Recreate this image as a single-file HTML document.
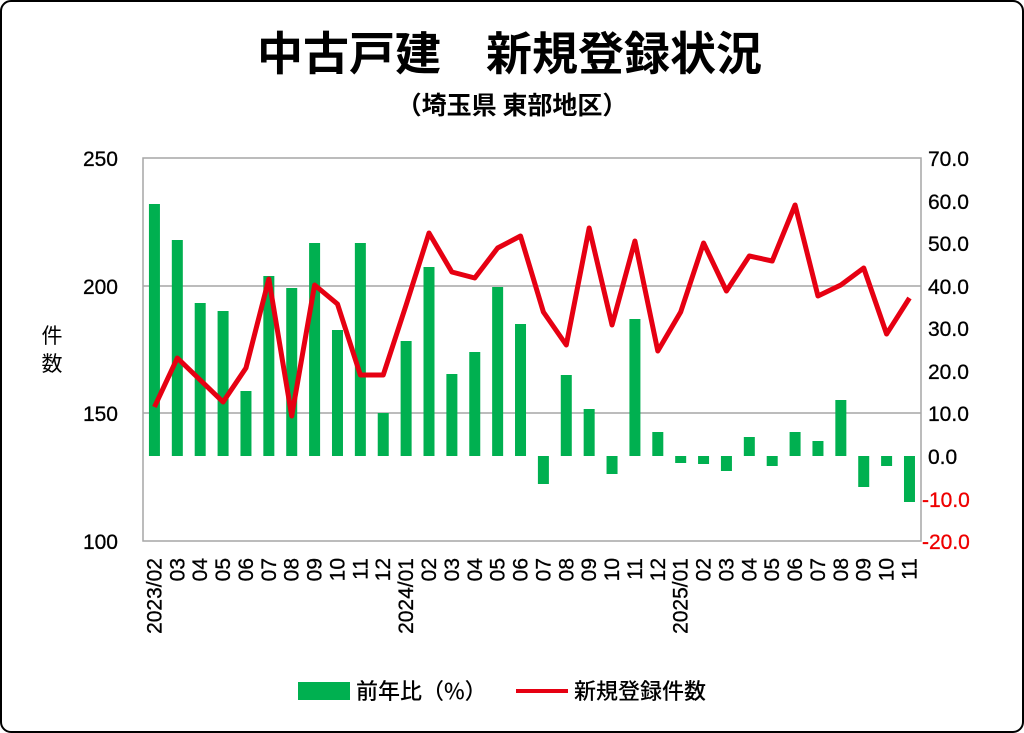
<!DOCTYPE html>
<html><head><meta charset="utf-8"><style>
body{margin:0;background:#fff;}
svg{display:block;font-family:"Liberation Sans","Noto Sans CJK JP",sans-serif;}
</style></head><body>
<svg width="1024" height="733" viewBox="0 0 1024 733">
<rect x="1" y="1" width="1022" height="731" rx="10" fill="#fff" stroke="#000" stroke-width="2"/>
<text x="349" y="70" text-anchor="middle" font-size="46" font-weight="bold" font-family="Noto Sans CJK JP,sans-serif">中古戸建</text>
<text x="624" y="70" text-anchor="middle" font-size="46" font-weight="bold" font-family="Noto Sans CJK JP,sans-serif">新規登録状況</text>
<text x="512" y="114" text-anchor="middle" font-size="25" font-weight="bold" font-family="Noto Sans CJK JP,sans-serif">（埼玉県 東部地区）</text>
<g stroke="#a6a6a6" stroke-width="1.5" fill="none">
<rect x="143" y="158" width="778" height="383"/>
<line x1="143" y1="286" x2="921" y2="286"/>
<line x1="143" y1="413" x2="921" y2="413"/>
</g>
<g font-size="21" text-anchor="end" fill="#000" stroke="#000" stroke-width="0.3">
<text x="118" y="166">250</text><text x="118" y="294">200</text><text x="118" y="421">150</text><text x="118" y="549">100</text>
</g>
<g font-size="21" fill="#000" stroke-width="0.3">
<text x="928" y="166" stroke="#000">70.0</text><text x="928" y="209" stroke="#000">60.0</text><text x="928" y="251" stroke="#000">50.0</text><text x="928" y="294" stroke="#000">40.0</text><text x="928" y="336" stroke="#000">30.0</text><text x="928" y="379" stroke="#000">20.0</text><text x="928" y="421" stroke="#000">10.0</text><text x="928" y="464" stroke="#000">0.0</text>
<text x="922" y="507" fill="#e00" stroke="#e00">-10.0</text><text x="922" y="549" fill="#e00" stroke="#e00">-20.0</text>
</g>
<text x="52" y="343" text-anchor="middle" font-size="21" font-family="Noto Sans CJK JP,sans-serif">件</text>
<text x="52" y="371" text-anchor="middle" font-size="21" font-family="Noto Sans CJK JP,sans-serif">数</text>
<g id="bars" fill="#00b050"></g>
<polyline id="line" fill="none" stroke="#e60012" stroke-width="5" stroke-linejoin="round"/>
<g id="xl" font-size="21" stroke="#000" stroke-width="0.3"></g>
<rect x="298" y="682" width="52" height="18" fill="#00b050"/>
<text x="356" y="699" font-size="22" font-family="Noto Sans CJK JP,sans-serif" font-weight="500">前年比（%）</text>
<line x1="516" y1="691" x2="568" y2="691" stroke="#e60012" stroke-width="4"/>
<text x="574" y="699" font-size="22" font-family="Noto Sans CJK JP,sans-serif" font-weight="500">新規登録件数</text>
</svg>
<script>
var tops=[204,240,303,311,391,276,288,243,330,243,413,341,267,374,352,287,324,484,375,409,474,319,432,463,464,471,437,466,432,441,400,487,466,502];
var ly=[407,358,380,402,368,279,416,285,304,375,375,305,233,272,278,248,236,312,345,228,325,241,351,312,243,291,256,261,205,296,285,268,334,298];
var labels=["2023/02","03","04","05","06","07","08","09","10","11","12","2024/01","02","03","04","05","06","07","08","09","10","11","12","2025/01","02","03","04","05","06","07","08","09","10","11"];
var ns="http://www.w3.org/2000/svg",b=document.getElementById("bars"),xl=document.getElementById("xl"),pts=[];
for(var i=0;i<34;i++){var cx=143+22.88*(i+0.5);var y0=Math.min(tops[i],456),y1=Math.max(tops[i],456);
var r=document.createElementNS(ns,"rect");r.setAttribute("x",cx-5.5);r.setAttribute("y",y0);r.setAttribute("width",11);r.setAttribute("height",y1-y0);b.appendChild(r);
pts.push(cx+","+ly[i]);
var t=document.createElementNS(ns,"text");t.setAttribute("transform","translate("+(cx+7)+",558) rotate(-90)");t.setAttribute("text-anchor","end");t.textContent=labels[i];xl.appendChild(t);}
document.getElementById("line").setAttribute("points",pts.join(" "));
</script>
</body></html>
